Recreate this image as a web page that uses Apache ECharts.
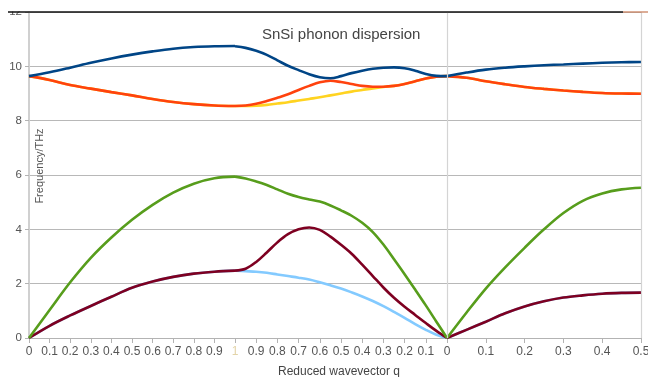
<!DOCTYPE html>
<html>
<head>
<meta charset="utf-8">
<script src="https://cdn.jsdelivr.net/npm/echarts@6/dist/echarts.min.js"></script>
<style>
  html, body { margin: 0; padding: 0; background: #fff; }
  #chart { width: 648px; height: 377px; }
</style>
</head>
<body>
<div id="chart"></div>
<script>
// q samples along the three path segments (seg 2 runs back from 1 to 0)
const q1 = [0, 0.1, 0.2, 0.3, 0.4, 0.5, 0.6, 0.7, 0.8, 0.9, 1];
const q2 = [1, 0.95, 0.9, 0.85, 0.8, 0.75, 0.7, 0.65, 0.6, 0.55, 0.5, 0.45, 0.4, 0.35, 0.3, 0.25, 0.2, 0.15, 0.1, 0.05, 0];
const q3 = [0, 0.05, 0.1, 0.15, 0.2, 0.25, 0.3, 0.35, 0.4, 0.45, 0.5];

// frequencies (THz), one array per band and segment
const blue1 = [9.64, 9.78, 9.95, 10.13, 10.29, 10.43, 10.55, 10.65, 10.71, 10.74, 10.75];
const blue2 = [10.74, 10.68, 10.57, 10.42, 10.22, 10.02, 9.86, 9.71, 9.6, 9.56, 9.64, 9.75, 9.84, 9.91, 9.95, 9.96, 9.93, 9.84, 9.72, 9.65, 9.64];
const blue3 = [9.64, 9.77, 9.88, 9.95, 10.0, 10.04, 10.07, 10.1, 10.13, 10.15, 10.16];

const orange1 = [9.64, 9.5, 9.31, 9.18, 9.05, 8.93, 8.8, 8.69, 8.61, 8.56, 8.54];
const orange2 = [8.54, 8.56, 8.62, 8.72, 8.84, 8.97, 9.13, 9.28, 9.41, 9.47, 9.42, 9.35, 9.28, 9.25, 9.25, 9.28, 9.35, 9.45, 9.55, 9.62, 9.64];
const orange3 = [9.64, 9.58, 9.45, 9.34, 9.24, 9.17, 9.11, 9.06, 9.02, 9.0, 8.99];

const yellow1 = [9.64, 9.5, 9.31, 9.18, 9.05, 8.93, 8.8, 8.69, 8.61, 8.56, 8.54];
const yellow2 = [8.54, 8.54, 8.55, 8.58, 8.63, 8.68, 8.74, 8.8, 8.86, 8.93, 9.0, 9.07, 9.13, 9.19, 9.24, 9.28, 9.35, 9.45, 9.55, 9.62, 9.64];
const yellow3 = [9.64, 9.58, 9.45, 9.34, 9.24, 9.17, 9.11, 9.06, 9.02, 9.0, 8.99];

const green1 = [0, 1.03, 2.05, 2.95, 3.7, 4.35, 4.9, 5.35, 5.68, 5.88, 5.94];
const green2 = [5.94, 5.87, 5.76, 5.63, 5.47, 5.31, 5.19, 5.1, 5.02, 4.88, 4.7, 4.5, 4.24, 3.9, 3.44, 2.9, 2.35, 1.78, 1.2, 0.6, 0];
const green3 = [0, 0.93, 1.82, 2.6, 3.32, 4.0, 4.6, 5.05, 5.32, 5.47, 5.53];

const maroon1 = [0, 0.45, 0.83, 1.18, 1.52, 1.85, 2.08, 2.25, 2.37, 2.44, 2.48];
const maroon2 = [2.48, 2.55, 2.8, 3.15, 3.52, 3.82, 4.0, 4.07, 3.98, 3.73, 3.43, 3.1, 2.7, 2.28, 1.86, 1.48, 1.15, 0.85, 0.55, 0.26, 0];
const maroon3 = [0, 0.3, 0.6, 0.91, 1.16, 1.35, 1.49, 1.57, 1.63, 1.66, 1.67];

const sky1 = [0, 0.45, 0.83, 1.18, 1.52, 1.85, 2.08, 2.25, 2.37, 2.44, 2.48];
const sky2 = [2.48, 2.46, 2.44, 2.4, 2.34, 2.28, 2.22, 2.15, 2.05, 1.94, 1.82, 1.68, 1.53, 1.36, 1.17, 0.96, 0.74, 0.51, 0.3, 0.12, 0];
const sky3 = [0, 0.3, 0.6, 0.91, 1.16, 1.35, 1.49, 1.57, 1.63, 1.66, 1.67];

// x tick labels
const tickQ1 = [0, 0.1, 0.2, 0.3, 0.4, 0.5, 0.6, 0.7, 0.8, 0.9, 1];
const tickQ2 = [0.9, 0.8, 0.7, 0.6, 0.5, 0.4, 0.3, 0.2, 0.1, 0];
const tickQ3 = [0.1, 0.2, 0.3, 0.4, 0.5];
const tickLabels = ['0', '0.1', '0.2', '0.3', '0.4', '0.5', '0.6', '0.7', '0.8', '0.9', '1',
  '0.9', '0.8', '0.7', '0.6', '0.5', '0.4', '0.3', '0.2', '0.1', '0',
  '0.1', '0.2', '0.3', '0.4', '0.5'];

// path coordinate: each segment gets its own length along the x axis
const SEG1 = 206, SEG2 = 212, SEG3 = 194;
const path1 = q => q * SEG1;
const path2 = q => SEG1 + (1 - q) * SEG2;
const path3 = q => SEG1 + SEG2 + (q / 0.5) * SEG3;
const PATH_END = SEG1 + SEG2 + SEG3;

const tickPos = [...tickQ1.map(path1), ...tickQ2.map(path2), ...tickQ3.map(path3)];

function labelFor(value) {
  let best = 0;
  tickPos.forEach((p, i) => {
    if (Math.abs(p - value) < Math.abs(tickPos[best] - value)) best = i;
  });
  if (best === 10) return '{faint|' + tickLabels[best] + '}';
  return tickLabels[best];
}

const FONT = 'Liberation Sans, Arial, sans-serif';

function segLine(name, color, qs, path, vals) {
  return {
    name,
    type: 'line',
    data: qs.map((q, i) => [path(q), vals[i]]),
    smooth: 0.35,
    showSymbol: false,
    symbol: 'none',
    lineStyle: { color, width: 2.6 },
    itemStyle: { color },
    silent: true,
  };
}

// one series per path segment, so the corners at X and Gamma stay sharp
function band(name, color, v1, v2, v3) {
  return [
    segLine(name, color, q1, path1, v1),
    segLine(name, color, q2, path2, v2),
    segLine(name, color, q3, path3, v3),
  ];
}

const series = [
  ...band('sky', '#83caff', sky1, sky2, sky3),
  ...band('yellow', '#ffd320', yellow1, yellow2, yellow3),
  ...band('maroon', '#7e0021', maroon1, maroon2, maroon3),
  ...band('orange', '#ff420e', orange1, orange2, orange3),
  ...band('blue', '#004586', blue1, blue2, blue3),
  ...band('green', '#579d1c', green1, green2, green3),
];

// vertical guide lines at Gamma and at the right edge
series[0].markLine = {
  silent: true,
  symbol: ['none', 'none'],
  label: { show: false },
  lineStyle: { color: '#d4d4d4', width: 1.2, type: 'solid' },
  data: [{ xAxis: SEG1 + SEG2 }, { xAxis: PATH_END }],
};

const chart = echarts.init(document.getElementById('chart'), null, { renderer: 'canvas' });

chart.setOption({
  animation: false,
  textStyle: { fontFamily: FONT },
  title: {
    text: 'SnSi phonon dispersion',
    left: 262,
    top: 27,
    padding: 0,
    textStyle: { fontSize: 15, fontWeight: 'normal', color: '#444', fontFamily: FONT },
  },
  grid: { left: 29, right: 7, top: 12, bottom: 39, outerBoundsMode: 'none' },
  xAxis: {
    type: 'value',
    min: 0,
    max: PATH_END,
    name: 'Reduced wavevector q',
    nameLocation: 'middle',
    nameGap: 28,
    nameTextStyle: { fontSize: 12, color: '#444', fontFamily: FONT, padding: [0, 0, 0, 8] },
    axisLine: { show: true, lineStyle: { color: '#b3b3b3', width: 1 } },
    axisTick: { show: true, length: 5, customValues: tickPos, lineStyle: { color: '#b3b3b3' } },
    axisLabel: {
      customValues: tickPos,
      formatter: labelFor,
      fontSize: 12,
      color: '#555',
      margin: 8,
      hideOverlap: false,
      rich: { faint: { color: '#e3d4a8', fontSize: 12 } },
    },
    splitLine: { show: false },
  },
  yAxis: {
    type: 'value',
    min: 0,
    max: 12,
    interval: 2,
    axisLine: { show: true, lineStyle: { color: '#d0d0d0', width: 2 } },
    axisTick: { show: true, length: 4, lineStyle: { color: '#b3b3b3' } },
    axisLabel: { fontSize: 11.5, color: '#555', margin: 7 },
    splitLine: { show: true, lineStyle: { color: '#b8b8b8', width: 1 } },
  },
  graphic: [
    { type: 'rect', z: 100, shape: { x: 0, y: 0, width: 648, height: 11.4 }, style: { fill: '#fff' } },
    { type: 'line', z: 101, shape: { x1: 8, y1: 12, x2: 623, y2: 12 }, style: { stroke: '#111', lineWidth: 1.3 } },
    { type: 'line', z: 101, shape: { x1: 623, y1: 12, x2: 648, y2: 12 }, style: { stroke: '#c9805f', lineWidth: 1.3 } },
    {
      type: 'text', z: 50, x: 40, y: 166, rotation: Math.PI / 2,
      style: { text: 'Frequency/THz', fontSize: 11, fill: '#555', font: '11px ' + FONT, align: 'center', verticalAlign: 'middle' },
    },
  ],
  series,
});
</script>
</body>
</html>
